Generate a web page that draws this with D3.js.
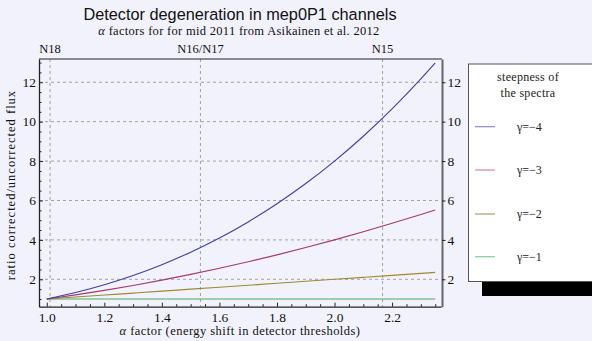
<!DOCTYPE html>
<html><head><meta charset="utf-8">
<script src="https://cdn.jsdelivr.net/npm/d3@7"></script>
<style>
html,body{margin:0;padding:0;background:#f2f2fc;}
svg{display:block;}
</style></head>
<body>
<svg id="c" width="592" height="341"></svg>
<script>
// ---- data ----
const alpha = [1.0,1.1,1.2,1.3,1.4,1.5,1.6,1.7,1.8,1.9,2.0,2.1,2.2,2.3,2.35];
const gamma4 = [1,1.331,1.728,2.197,2.744,3.375,4.096,4.913,5.832,6.859,8.0,9.261,10.648,12.167,12.978];
const gamma3 = [1,1.21,1.44,1.69,1.96,2.25,2.56,2.89,3.24,3.61,4.0,4.41,4.84,5.29,5.52];
const gamma2 = [1,1.1,1.2,1.3,1.4,1.5,1.6,1.7,1.8,1.9,2.0,2.1,2.2,2.3,2.35];
const gamma1 = [1,1,1,1,1,1,1,1,1,1,1,1,1,1,1];
const seriesNames = ["\u03b3=\u22124","\u03b3=\u22123","\u03b3=\u22122","\u03b3=\u22121"];
const satellites = ["N18","N16/N17","N15"];
const satAlpha = [1.0115,1.534,2.167];
const xTicks = [1.0,1.2,1.4,1.6,1.8,2.0,2.2];
const yTicks = [2,4,6,8,10,12];

const colors = ["#3f3fa6","#a33a72","#9c8a33","#4ea866"];
const legendColors = ["#8c8cd2","#d484ac","#b0a070","#88cc98"];
const SERIF = "'Liberation Serif','Times New Roman',serif";
const SANS = "'Liberation Sans',Arial,sans-serif";

const svg = d3.select("#c");
const x = d3.scaleLinear().domain([0.973,2.370]).range([39,441]);
const y = d3.scaleLinear().domain([0.61,13.18]).range([306.7,59]);

// grid
const grid = svg.append("g").attr("stroke","#a0a0a8").attr("stroke-width",1).attr("stroke-dasharray","3,3");
yTicks.forEach(v=>grid.append("line").attr("x1",x.range()[0]).attr("x2",x.range()[1]).attr("y1",y(v)).attr("y2",y(v)));
satAlpha.forEach(v=>grid.append("line").attr("x1",x(v)).attr("x2",x(v)).attr("y1",y.range()[1]).attr("y2",y.range()[0]));

// curves
const all = [gamma4,gamma3,gamma2,gamma1];
const line = d3.line().x((d,i)=>x(alpha[i])).y(d=>y(d)).curve(d3.curveMonotoneX);
[3,2,1,0].forEach(idx=>{
  svg.append("path").attr("d",line(all[idx])).attr("fill","none").attr("stroke",colors[idx]).attr("stroke-width",1.1);
});

// frame top
svg.append("line").attr("x1",39).attr("x2",442).attr("y1",59).attr("y2",59).attr("stroke","#222").attr("stroke-width",1.2);

// left axis
const gl = svg.append("g").attr("transform",`translate(${x.range()[0]},0)`);
gl.call(d3.axisLeft(y).tickValues(yTicks).tickSizeInner(-4).tickSizeOuter(0).tickPadding(3).tickFormat(d3.format("d")));
const gl2 = svg.append("g").attr("transform",`translate(${x.range()[0]},0)`);
gl2.call(d3.axisLeft(y).tickValues(d3.range(1,13.01,0.5).filter(v=>v%2!==0)).tickSizeInner(-2.5).tickSizeOuter(0).tickFormat(""));
gl2.select(".domain").remove();

// bottom axis
const gb = svg.append("g").attr("transform",`translate(0,${y.range()[0]})`);
gb.call(d3.axisBottom(x).tickValues(xTicks).tickSizeInner(-4).tickSizeOuter(0).tickPadding(6).tickFormat(d3.format(".1f")));
const gb2 = svg.append("g").attr("transform",`translate(0,${y.range()[0]})`);
gb2.call(d3.axisBottom(x).tickValues(d3.range(1.05,2.36,0.05).filter(v=>Math.abs(v*5-Math.round(v*5))>0.01)).tickSizeInner(-2.5).tickSizeOuter(0).tickFormat(""));
gb2.select(".domain").remove();

// right axis
const gr = svg.append("g").attr("transform",`translate(442,0)`);
gr.call(d3.axisRight(y).tickValues(yTicks).tickSizeInner(3.5).tickSizeOuter(0).tickPadding(2).tickFormat(d3.format("d")));
gr.select(".domain").attr("stroke","#666").attr("stroke-width",2);

[gl,gb,gr].forEach(g=>{
  g.attr("font-family",null);
  g.selectAll("text").attr("fill","#111").style("font-family",SERIF).style("font-size","13.5px");
});
gl.select(".domain").attr("stroke","#222").attr("stroke-width",1.3);
gb.select(".domain").attr("stroke","#222").attr("stroke-width",1.3);
svg.selectAll(".tick line").attr("stroke","#222");

function txt(xp,yp,size,fam,anchor){
  return svg.append("text").attr("x",xp).attr("y",yp).attr("text-anchor",anchor||"middle")
    .style("font-family",fam).style("font-size",size+"px").attr("fill","#111");
}

// top satellite labels
satellites.forEach((s,i)=>{ txt(x(satAlpha[i]),53,12.5,SERIF).text(s); });

// titles
txt(240,20,16.3,SANS).text("Detector degeneration in mep0P1 channels");
const st = txt(239,34.5,12.5,SERIF).style("letter-spacing","0.3px");
st.append("tspan").style("font-style","italic").text("\u03b1");
st.append("tspan").text(" factors for for mid 2011 from Asikainen et al. 2012");

const xt = txt(240,335,12.5,SERIF).style("letter-spacing","0.45px");
xt.append("tspan").style("font-style","italic").text("\u03b1");
xt.append("tspan").text(" factor (energy shift in detector thresholds)");

txt(0,0,12.5,SERIF).attr("x",null).attr("y",null).attr("transform","translate(15,185) rotate(-90)")
  .style("letter-spacing","1px").text("ratio corrected/uncorrected flux");

// legend
svg.append("rect").attr("x",482).attr("y",281.5).attr("width",120).attr("height",14.5).attr("fill","#000");
svg.append("rect").attr("x",468.5).attr("y",64).attr("width",140).attr("height",217.5).attr("fill","#fff").attr("stroke","#555").attr("stroke-width",1);
txt(528,81,12,SERIF).attr("fill","#222").style("letter-spacing","0.3px").text("steepness of");
txt(528,97,12,SERIF).attr("fill","#222").style("letter-spacing","0.3px").text("the spectra");
const legY = [126.7,170,214,256.7];
seriesNames.forEach((n,i)=>{
  svg.append("line").attr("x1",475).attr("x2",495).attr("y1",legY[i]).attr("y2",legY[i]).attr("stroke",legendColors[i]).attr("stroke-width",1.2);
  txt(517,legY[i]+4,12,SERIF,"start").attr("fill","#222").text(n);
});
</script>
</body></html>
